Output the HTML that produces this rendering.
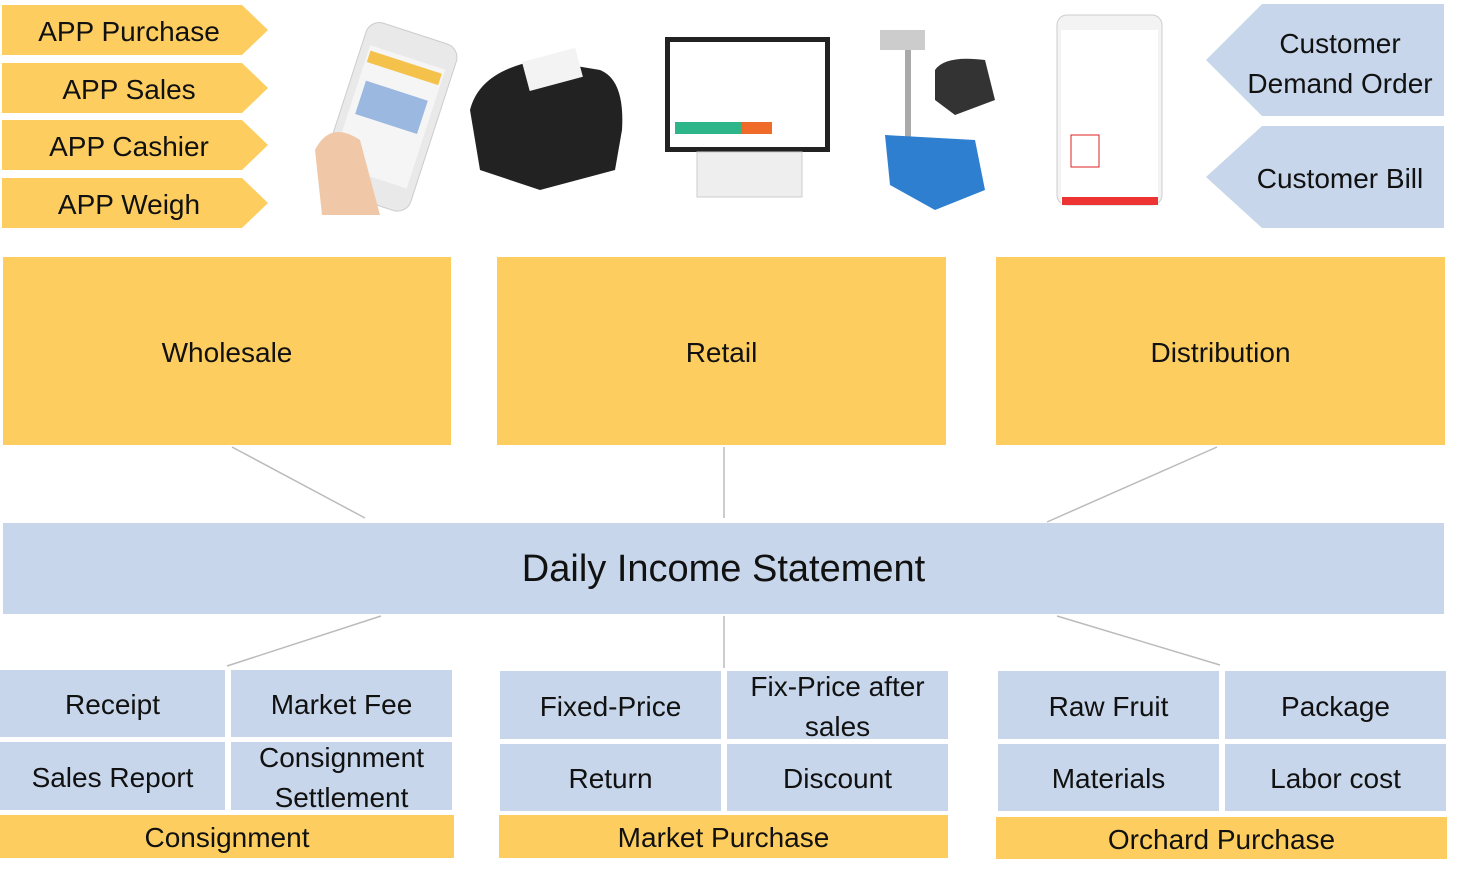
<!DOCTYPE html>
<html><head><meta charset="utf-8"><style>
body{margin:0;width:1459px;height:879px;background:#fff;position:relative;overflow:hidden;font-family:"Liberation Sans","DejaVu Sans",sans-serif;color:#111}
.b{position:absolute;display:flex;align-items:center;justify-content:center;text-align:center;line-height:1.4;padding-top:3px;box-sizing:border-box}
.y{background:#FDCE5F}.u{background:#C7D6EA}
.f{font-size:28px}
</style></head><body>
<svg width="1459" height="879" style="position:absolute;left:0;top:0">
<g fill="#FDCE5F">
<polygon points="2,5 242,5 268,30 242,55 2,55"/>
<polygon points="2,63 242,63 268,88 242,113 2,113"/>
<polygon points="2,120 242,120 268,145 242,170 2,170"/>
<polygon points="2,178 242,178 268,203 242,228 2,228"/>
</g>
<g fill="#C7D6EA">
<polygon points="1262,4 1444,4 1444,116 1262,116 1206,60"/>
<polygon points="1262,126 1444,126 1444,228 1262,228 1206,177"/>
</g>
<g stroke="#bbb" stroke-width="1.5">
<line x1="232" y1="447" x2="365" y2="518"/><line x1="724" y1="447" x2="724" y2="518"/><line x1="1217" y1="447" x2="1047" y2="522"/>
<line x1="381" y1="616" x2="227" y2="666"/><line x1="724" y1="616" x2="724" y2="668"/><line x1="1057" y1="616" x2="1220" y2="665"/>
</g>
<g transform="rotate(18 390 120)"><rect x="340" y="30" width="95" height="175" rx="14" fill="#e9e9ea" stroke="#ccc"/><rect x="348" y="55" width="79" height="125" fill="#f5f5f5"/><rect x="350" y="60" width="75" height="12" fill="#f4c24a"/><rect x="355" y="90" width="65" height="35" fill="#9bb8e0"/></g>
<path d="M315,150 Q330,120 360,140 L380,215 L322,215 Z" fill="#f0c8a8"/>
<path d="M470,110 Q480,70 540,60 L600,70 Q625,80 622,130 L615,170 L540,190 L480,170 Z" fill="#222"/>
<rect x="525" y="55" width="55" height="30" fill="#f3f3f3" transform="rotate(-15 550 70)"/>
<rect x="665" y="37" width="165" height="115" fill="#222"/><rect x="670" y="42" width="155" height="105" fill="#fff"/>
<rect x="675" y="122" width="90" height="12" fill="#2fb58a"/><rect x="742" y="122" width="30" height="12" fill="#f06a2a"/>
<rect x="697" y="152" width="105" height="45" fill="#eee" stroke="#ccc"/>
<rect x="905" y="40" width="6" height="100" fill="#aaa"/><rect x="880" y="30" width="45" height="20" fill="#ccc"/>
<path d="M885,135 L975,140 L985,190 L935,210 L890,185 Z" fill="#2f7fd0"/>
<path d="M935,70 Q945,55 985,60 L995,100 L955,115 L935,100 Z" fill="#333"/>
<rect x="1057" y="15" width="105" height="190" rx="10" fill="#f3f3f3" stroke="#ccc"/><rect x="1061" y="30" width="97" height="175" fill="#fff"/>
<rect x="1071" y="135" width="28" height="32" fill="#fff" stroke="#d22"/><rect x="1062" y="197" width="96" height="8" fill="#e33"/>
</svg>
<div class="b f" style="left:2px;top:5px;width:254px;height:50px">APP Purchase</div>
<div class="b f" style="left:2px;top:63px;width:254px;height:50px">APP Sales</div>
<div class="b f" style="left:2px;top:120px;width:254px;height:50px">APP Cashier</div>
<div class="b f" style="left:2px;top:178px;width:254px;height:50px">APP Weigh</div>
<div class="b f" style="left:1236px;top:22px;width:208px;height:80px">Customer<br>Demand Order</div>
<div class="b f" style="left:1236px;top:126px;width:208px;height:102px">Customer Bill</div>
<div class="b y f" style="left:3px;top:257px;width:448px;height:188px">Wholesale</div>
<div class="b y f" style="left:497px;top:257px;width:449px;height:188px">Retail</div>
<div class="b y f" style="left:996px;top:257px;width:449px;height:188px">Distribution</div>
<div class="b u" style="left:3px;top:523px;width:1441px;height:91px;font-size:38px">Daily Income Statement</div>
<div class="b u f" style="left:0;top:670px;width:225px;height:67px">Receipt</div>
<div class="b u f" style="left:231px;top:670px;width:221px;height:67px">Market Fee</div>
<div class="b u f" style="left:0;top:742px;width:225px;height:68px">Sales Report</div>
<div class="b u f" style="left:231px;top:742px;width:221px;height:68px">Consignment<br>Settlement</div>
<div class="b y f" style="left:0;top:815px;width:454px;height:43px">Consignment</div>
<div class="b u f" style="left:500px;top:671px;width:221px;height:68px">Fixed-Price</div>
<div class="b u f" style="left:727px;top:671px;width:221px;height:68px">Fix-Price after<br>sales</div>
<div class="b u f" style="left:500px;top:744px;width:221px;height:67px">Return</div>
<div class="b u f" style="left:727px;top:744px;width:221px;height:67px">Discount</div>
<div class="b y f" style="left:499px;top:815px;width:449px;height:43px">Market Purchase</div>
<div class="b u f" style="left:998px;top:671px;width:221px;height:68px">Raw Fruit</div>
<div class="b u f" style="left:1225px;top:671px;width:221px;height:68px">Package</div>
<div class="b u f" style="left:998px;top:744px;width:221px;height:67px">Materials</div>
<div class="b u f" style="left:1225px;top:744px;width:221px;height:67px">Labor cost</div>
<div class="b y f" style="left:996px;top:817px;width:451px;height:42px">Orchard Purchase</div>
</body></html>
